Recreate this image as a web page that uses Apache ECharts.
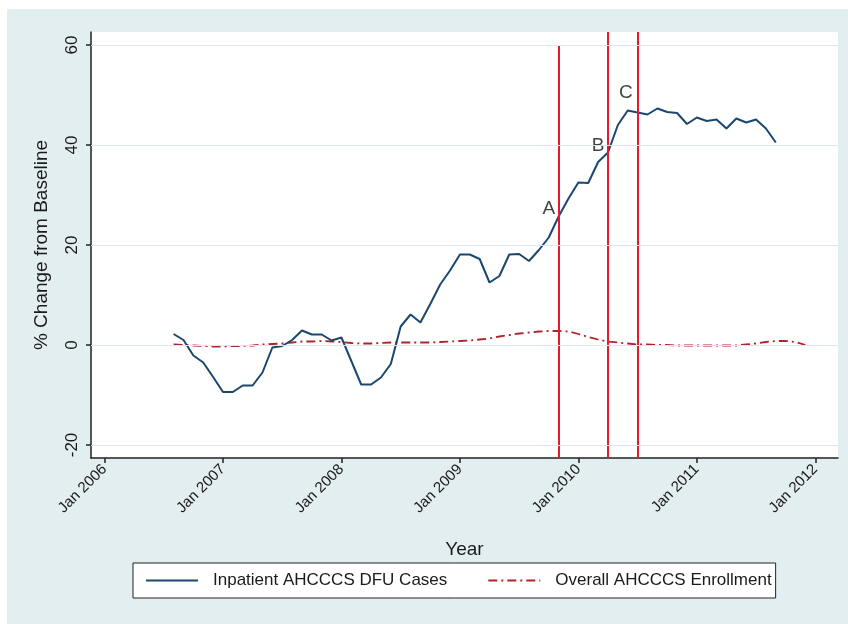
<!DOCTYPE html>
<html>
<head>
<meta charset="utf-8">
<title>Inpatient AHCCCS DFU Cases vs Enrollment</title>
<script src="https://cdn.jsdelivr.net/npm/echarts@6/dist/echarts.min.js"></script>
<style>
  html, body { margin: 0; padding: 0; background: #fff; }
  #wrap { position: relative; width: 848px; height: 624px; }
  #bg { position: absolute; left: 7px; top: 9px; right: 0; bottom: 0; background: #e2eef0; }
  #chart { position: absolute; left: 0; top: 0; width: 848px; height: 624px; }
</style>
</head>
<body>
<div id="wrap">
  <div id="bg"></div>
  <div id="chart"></div>
</div>
<script>
// months counted from Jan 2006 (0 = Jan 2006)
const yearTicks = [0, 12, 24, 36, 48, 60, 72]
const valueTicks = [-20, 0, 20, 40, 60]

// Inpatient AHCCCS DFU Cases, monthly from Aug 2006
const dfuStart = 7
const dfuValues = [
  2.2, 1.0, -2.1, -3.5, -6.4, -9.4, -9.4, -8.1, -8.1, -5.5,
  -0.5, -0.2, 1.0, 2.9, 2.1, 2.1, 0.9, 1.5, -3.2, -7.9,
  -7.9, -6.5, -3.8, 3.7, 6.1, 4.5, 8.2, 12.1, 14.9, 18.1,
  18.1, 17.2, 12.5, 13.8, 18.1, 18.2, 16.8, 19.0, 21.5, 25.7,
  29.3, 32.5, 32.4, 36.6, 38.5, 44.0, 46.9, 46.5, 46.1, 47.3,
  46.6, 46.4, 44.2, 45.5, 44.8, 45.1, 43.3, 45.3, 44.5, 45.1,
  43.3, 40.5
]

// Overall AHCCCS Enrollment, monthly from Aug 2006
const enrollStart = 7
const enrollValues = [
  0.1, 0.0, -0.1, -0.2, -0.3, -0.3, -0.2, -0.2, -0.1, 0.1,
  0.2, 0.3, 0.5, 0.7, 0.7, 0.8, 0.7, 0.6, 0.4, 0.3,
  0.3, 0.4, 0.5, 0.5, 0.5, 0.5, 0.5, 0.6, 0.7, 0.8,
  0.9, 1.1, 1.3, 1.7, 2.0, 2.3, 2.5, 2.7, 2.8, 2.8,
  2.7, 2.2, 1.6, 1.1, 0.7, 0.5, 0.3, 0.1, 0.1, 0.0,
  0.0, -0.1, -0.1, -0.1, -0.1, -0.1, -0.1, -0.1, 0.1, 0.3,
  0.6, 0.8, 0.8, 0.6, 0.0
]

// event markers A (Nov 2009), B (Apr 2010), C (Jul 2010)
const eventMonths = [46, 51, 54]
const eventTops = [60, null, null]
const eventLabels = ['A', 'B', 'C']
const eventLabelAt = [[45.0, 27.2], [50.0, 39.8], [52.8, 50.4]]

const xMin = -1.37
const xMax = 74.3
const yMin = -22.6
const yMax = 62.6

const font = "'Liberation Sans', Arial, sans-serif"
const textColor = '#1a1a1a'

const dfuData = dfuValues.map((v, i) => [dfuStart + i, v])
const enrollData = enrollValues.map((v, i) => [enrollStart + i, v])

const chart = echarts.init(document.getElementById('chart'), null, { renderer: 'canvas' })

chart.setOption({
  animation: false,
  textStyle: { fontFamily: font },
  grid: {
    left: 91,
    right: 10,
    top: 32,
    bottom: 166,
    show: true,
    backgroundColor: '#fff',
    borderWidth: 0,
  },
  legend: {
    left: 133,
    top: 563,
    padding: [9, 4, 9, 12],
    backgroundColor: '#fff',
    borderColor: '#222',
    borderWidth: 1,
    borderRadius: 0,
    itemWidth: 52,
    itemHeight: 12,
    itemGap: 40,
    selectedMode: false,
    itemStyle: { color: 'transparent', borderWidth: 0, opacity: 0 },
    data: ['Inpatient AHCCCS DFU Cases', 'Overall AHCCCS Enrollment'],
    textStyle: { fontSize: 17, color: textColor, padding: [0, 0, 0, 10] },
  },
  xAxis: {
    type: 'value',
    min: xMin,
    max: xMax,
    name: 'Year',
    nameLocation: 'middle',
    nameGap: 82,
    nameTextStyle: { fontSize: 19, color: textColor },
    axisLine: { show: true, onZero: false, lineStyle: { color: '#222', width: 1.5 } },
    axisTick: {
      show: true,
      customValues: yearTicks,
      length: 5,
      lineStyle: { color: '#222', width: 1.5 },
    },
    axisLabel: {
      customValues: yearTicks,
      rotate: 45,
      margin: 9,
      fontSize: 15,
      color: textColor,
      formatter: (v) => 'Jan ' + (2006 + Math.round(v / 12)),
    },
    splitLine: { show: false },
  },
  yAxis: {
    type: 'value',
    min: yMin,
    max: yMax,
    name: '% Change from Baseline',
    nameLocation: 'middle',
    nameGap: 40,
    nameTextStyle: { fontSize: 19, color: textColor },
    axisLine: { show: true, onZero: false, lineStyle: { color: '#222', width: 1.5 } },
    axisTick: {
      show: true,
      customValues: valueTicks,
      length: 5,
      lineStyle: { color: '#222', width: 1.5 },
    },
    axisLabel: {
      customValues: valueTicks,
      rotate: 90,
      margin: 10,
      fontSize: 17,
      color: textColor,
    },
    splitLine: { show: false },
  },
  series: [
    {
      name: 'Inpatient AHCCCS DFU Cases',
      type: 'line',
      data: dfuData,
      showSymbol: false,
      symbol: 'none',
      z: 4,
      lineStyle: { color: '#1a476f', width: 2 },
      itemStyle: { color: '#1a476f' },
      markLine: {
        silent: true,
        symbol: ['none', 'none'],
        label: { show: false },
        lineStyle: { color: '#e41a2e', width: 2, type: 'solid' },
        data: eventMonths.map((m, i) => [
          { coord: [m, eventTops[i] == null ? yMax : eventTops[i]] },
          { coord: [m, yMin] },
        ]),
      },
    },
    {
      name: 'Overall AHCCCS Enrollment',
      type: 'line',
      data: enrollData,
      showSymbol: false,
      symbol: 'none',
      z: 3,
      lineStyle: { color: '#ab252b', width: 1.8, type: [9, 4, 2, 4] },
      itemStyle: { color: '#ab252b' },
    },
    {
      // grid lines
      type: 'line',
      data: [],
      silent: true,
      z: 1,
      markLine: {
        silent: true,
        symbol: ['none', 'none'],
        label: { show: false },
        lineStyle: { color: '#d9e8eb', width: 1.2, type: 'solid' },
        data: valueTicks.map((v) => ({ yAxis: v })),
      },
    },
    {
      name: 'events',
      type: 'scatter',
      symbolSize: 0,
      silent: true,
      data: eventLabelAt.map((p, i) => ({ value: p, name: eventLabels[i] })),
      label: {
        show: true,
        position: 'inside',
        formatter: (p) => p.name,
        fontSize: 19,
        color: '#111',
      },
    },
  ],
})
</script>
</body>
</html>
